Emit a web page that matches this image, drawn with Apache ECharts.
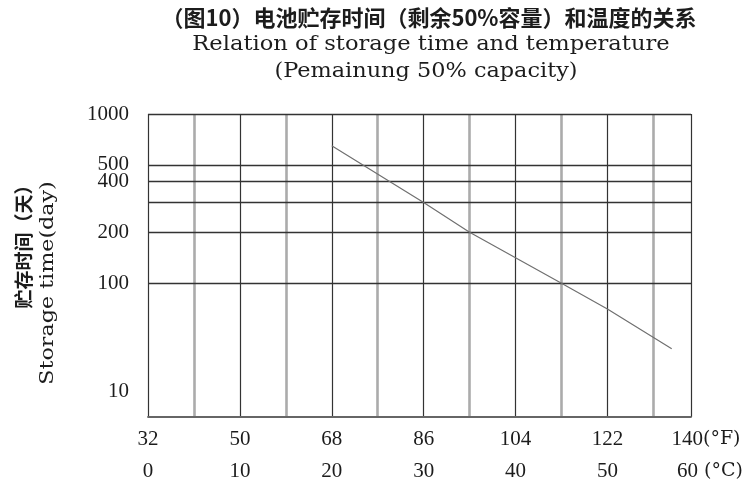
<!DOCTYPE html>
<html>
<head>
<meta charset="utf-8">
<script src="https://cdn.jsdelivr.net/npm/echarts@6/dist/echarts.min.js"></script>
<style>
  html, body { margin: 0; padding: 0; background: #fff; }
  #chart { width: 751px; height: 487px; }
</style>
</head>
<body>
<div id="chart"></div>
<script>
// Storage time (days, 50% capacity left) versus storage temperature (°C)
const tempC = [20, 30, 35, 45, 50, 57];
const storageDays = [650, 300, 200, 100, 58, 25];

// Axis ticks
const celsiusTicks = [0, 10, 20, 30, 40, 50, 60];
const fahrenheitTicks = [32, 50, 68, 86, 104, 122, 140];
const dayLabelTicks = [10, 100, 200, 400, 500, 1000];
const dayGridTicks = [100, 200, 300, 400, 500, 1000];

// Plot extent: the temperature axis stops a little short of 60 °C
const X_MAX = 59.1;
// Day axis: log decades, the decade below 100 is drawn compressed
const LOW_DECADE = 0.643;
const toAxis = d => d >= 100 ? Math.log10(d) : 2 - (2 - Math.log10(d)) * LOW_DECADE;
const fromAxis = t => t >= 2 ? Math.pow(10, t) : Math.pow(10, 2 - (2 - t) / LOW_DECADE);
const Y_MIN = 1.209;
const Y_MAX = 3;

const NUM_FONT = 'Liberation Serif';
const TXT_FONT = 'DejaVu Serif';
const CJK_FONT = 'Noto Sans CJK SC';
const INK = '#1c1c1c';

const chart = echarts.init(document.getElementById('chart'), null, { renderer: 'canvas' });

const labelValues = celsiusTicks.slice(0, -1).concat([X_MAX]);
const numStyle = { fontFamily: NUM_FONT, fontSize: 21, color: INK, lineHeight: 32 };
const unitStyle = { fontFamily: TXT_FONT, fontSize: 19, color: INK, lineHeight: 32 };

chart.setOption({
  backgroundColor: '#fff',
  animation: false,
  grid: { left: 148, right: 60, top: 114, bottom: 70, containLabel: false },
  xAxis: [
    {
      type: 'value',
      min: 0,
      max: X_MAX,
      interval: 10,
      axisLine: { show: true, lineStyle: { color: '#666', width: 1.8 } },
      axisTick: { show: false },
      splitLine: { show: true, lineStyle: { color: '#333', width: 1.2 } },
      axisLabel: {
        customValues: labelValues,
        showMaxLabel: true,
        showMinLabel: true,
        margin: 6,
        formatter: v => {
          const i = v === X_MAX ? celsiusTicks.length - 1 : Math.round(v / 10);
          if (i === celsiusTicks.length - 1) {
            return '{pf| }{n|' + fahrenheitTicks[i] + '}{u|(°F)}\n{pc| }{n|' + celsiusTicks[i] + '}{u| (°C)}';
          }
          return '{n|' + fahrenheitTicks[i] + '}\n{n|' + celsiusTicks[i] + '}';
        },
        rich: {
          n: numStyle,
          u: unitStyle,
          pf: { fontSize: 20, lineHeight: 32, width: 30 },
          pc: { fontSize: 20, lineHeight: 32, width: 38 }
        }
      }
    },
    {
      // lighter half-step lines at 5, 15, ... 55 °C
      type: 'value',
      min: 0,
      max: X_MAX,
      interval: 5,
      z: -1,
      axisLine: { show: false },
      axisTick: { show: false },
      axisLabel: { show: false },
      splitLine: { show: true, lineStyle: { color: ['rgba(0,0,0,0)', '#ababab'], width: 2.6 } }
    }
  ],
  yAxis: {
    type: 'value',
    min: Y_MIN,
    max: Y_MAX,
    axisLine: { show: false },
    axisTick: { show: false, customValues: dayGridTicks.map(toAxis) },
    splitLine: { show: true, lineStyle: { color: '#333', width: 1.3 } },
    axisLabel: {
      customValues: dayLabelTicks.map(toAxis),
      margin: 19,
      fontFamily: NUM_FONT,
      fontSize: 21,
      color: INK,
      formatter: v => String(Math.round(fromAxis(v)))
    }
  },
  series: [
    {
      type: 'line',
      data: tempC.map((c, i) => [c, toAxis(storageDays[i])]),
      symbol: 'none',
      lineStyle: { color: '#707070', width: 1.2 },
      z: 3
    }
  ],
  graphic: [
    {
      type: 'text', x: 429, y: 18,
      style: { text: '（图10）电池贮存时间（剩余50%容量）和温度的关系', font: 'bold 22px "' + CJK_FONT + '"', fill: INK, align: 'center', verticalAlign: 'middle' }
    },
    {
      type: 'text', x: 431, y: 45, scaleX: 1.13,
      style: { text: 'Relation of storage time and temperature', font: '20px "' + TXT_FONT + '"', fill: INK, align: 'center', verticalAlign: 'middle' }
    },
    {
      type: 'text', x: 426, y: 72, scaleX: 1.12,
      style: { text: '(Pemainung 50% capacity)', font: '20px "' + TXT_FONT + '"', fill: INK, align: 'center', verticalAlign: 'middle' }
    },
    {
      type: 'text', x: 24, y: 242, rotation: Math.PI / 2,
      style: { text: '贮存时间（天）', font: 'bold 19px "' + CJK_FONT + '"', fill: INK, align: 'center', verticalAlign: 'middle' }
    },
    {
      type: 'text', x: 48, y: 283, rotation: Math.PI / 2, scaleX: 1.17,
      style: { text: 'Storage time(day)', font: '19px "' + TXT_FONT + '"', fill: INK, align: 'center', verticalAlign: 'middle' }
    }
  ]
});
</script>
</body>
</html>
